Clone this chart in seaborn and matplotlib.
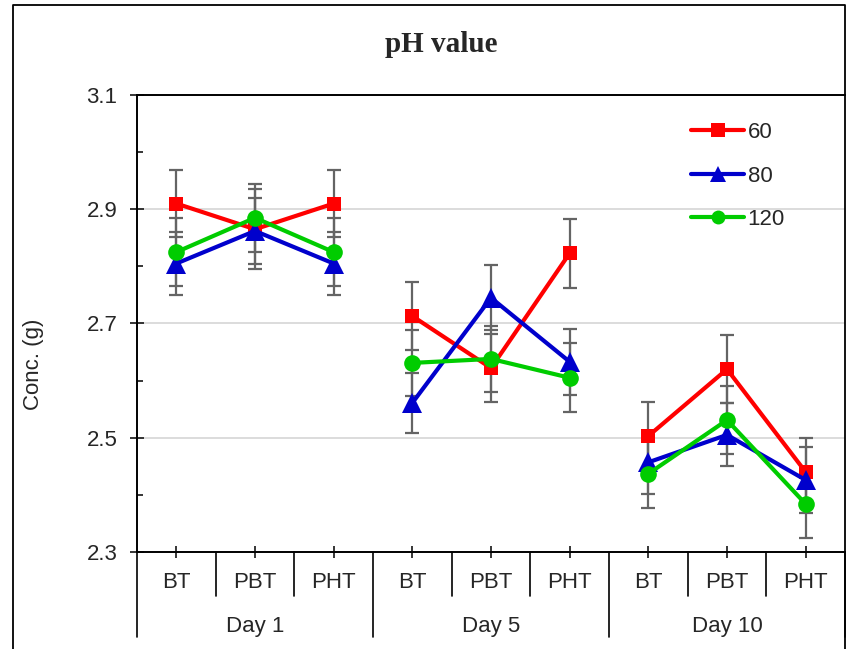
import numpy as np
import pandas as pd
import seaborn as sns
import matplotlib.pyplot as plt
from matplotlib.lines import Line2D
from matplotlib.ticker import FixedLocator

days = ["Day 1", "Day 5", "Day 10"]
treatments = ["BT", "PBT", "PHT"]
series = ["60", "80", "120"]

ph_60 = [2.910, 2.865, 2.910, 2.713, 2.622, 2.823, 2.503, 2.620, 2.440]
ph_80 = [2.805, 2.862, 2.805, 2.561, 2.745, 2.633, 2.457, 2.505, 2.426]
ph_120 = [2.825, 2.885, 2.825, 2.631, 2.638, 2.605, 2.437, 2.531, 2.384]

err_60 = [0.058, 0.070, 0.058, 0.060, 0.060, 0.060, 0.060, 0.060, 0.060]
err_80 = [0.055, 0.058, 0.055, 0.052, 0.057, 0.058, 0.055, 0.055, 0.058]
err_120 = [0.060, 0.060, 0.060, 0.058, 0.058, 0.060, 0.060, 0.060, 0.060]

colors = {"60": "#FF0000", "80": "#0000CC", "120": "#00CC00"}
markers = {"60": "s", "80": "^", "120": "o"}
msize = {"s": 10.5, "^": 14, "o": 12}

values = {"60": ph_60, "80": ph_80, "120": ph_120}
errors = {"60": err_60, "80": err_80, "120": err_120}

rows = []
for s in series:
    for i in range(9):
        rows.append({"pos": i, "day": days[i // 3], "cat": treatments[i % 3],
                     "series": s, "value": values[s][i], "err": errors[s][i]})
df = pd.DataFrame(rows)

sns.set_style("white")
plt.rcParams["font.family"] = ["Liberation Sans", "DejaVu Sans"]

fig = plt.figure(figsize=(8.6, 6.49), dpi=100)
ax = fig.add_axes([137 / 860, 1 - 552 / 649, 708 / 860, 457 / 649])

# error bars underneath the lines
for s in series:
    d = df[df["series"] == s]
    ax.errorbar(d["pos"], d["value"], yerr=d["err"], fmt="none",
                ecolor="#646464", elinewidth=1.6, capsize=4.7, capthick=1.6, zorder=2)

sns.lineplot(data=df, x="pos", y="value", hue="series", style="series",
             units="day", estimator=None, palette=colors, markers=markers,
             dashes=False, linewidth=3, markersize=10, markeredgewidth=0,
             ax=ax, zorder=3)
for ln in ax.lines:
    if ln.get_marker() in msize:
        ln.set_markersize(msize[ln.get_marker()])

ax.set_xlim(-0.5, 8.5)
ax.set_ylim(2.3, 3.1)
ax.yaxis.set_major_locator(FixedLocator([2.3, 2.5, 2.7, 2.9, 3.1]))
ax.yaxis.set_minor_locator(FixedLocator([2.4, 2.6, 2.8, 3.0]))
ax.set_yticklabels(["2.3", "2.5", "2.7", "2.9", "3.1"])
ax.grid(axis="y", which="major", color="#d9d9d9", linewidth=1.3)
ax.set_axisbelow(True)
ax.tick_params(axis="y", which="major", direction="inout", length=10, width=1.3,
               labelsize=16, pad=9, left=True)
ax.tick_params(axis="y", which="minor", direction="in", length=4.5, width=1.3, left=True)
ax.tick_params(axis="x", which="both", direction="inout", length=8, width=1.3,
               bottom=True, labelbottom=False)
ax.set_xticks(range(9))
ax.spines["right"].set_visible(False)
for side in ["left", "bottom", "top"]:
    ax.spines[side].set_color("black")
    ax.spines[side].set_linewidth(1.4)

ax.set_xlabel("")
ax.set_ylabel("")
fig.text(34 / 860, 1 - 364 / 649, "Conc. (g)", rotation=90, ha="center",
         va="center", fontsize=16)
fig.text(441 / 860, 1 - 45 / 649, "pH value", ha="center", va="center",
         fontsize=21, fontweight="bold", family="Liberation Serif")

# category axis labels and separators
trans = ax.get_xaxis_transform()
for i in range(9):
    ax.text(i, -0.066, treatments[i % 3], transform=trans, ha="center",
            va="center", fontsize=16)
for k, day in enumerate(days):
    ax.text(3 * k + 1, -0.162, day, transform=trans, ha="center", va="center",
            fontsize=16)
for b in np.arange(-0.5, 9, 1):
    low = -0.186 if b % 3 == 2.5 or b in (-0.5, 8.5) else -0.096
    ax.add_line(Line2D([b, b], [0, low], transform=trans, color="black",
                       linewidth=1.2, clip_on=False))

# legend
handles, labels = ax.get_legend_handles_labels()
leg = ax.legend(handles, labels, loc="upper left",
                bbox_to_anchor=(682 / 860, 1 - 113 / 649), bbox_transform=fig.transFigure,
                frameon=False, fontsize=16, handlelength=2.4, handletextpad=0.15,
                labelspacing=1.02, borderaxespad=0)
for h in leg.legend_handles:
    h.set_linewidth(3)
    h.set_markersize(10 if h.get_marker() != "^" else 11)

# chart border
fx = [13 / 860, 13 / 860, 845 / 860, 845 / 860]
fy = [0, 1 - 5 / 649, 1 - 5 / 649, 0]
fig.add_artist(Line2D(fx, fy, transform=fig.transFigure, color="black",
                      linewidth=1.3))

fig.savefig("out.png", dpi=100)
